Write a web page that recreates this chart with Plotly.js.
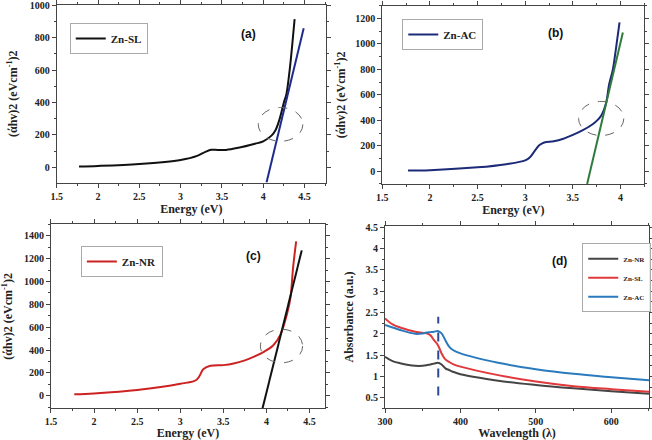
<!DOCTYPE html>
<html><head><meta charset="utf-8">
<script src="https://cdn.plot.ly/plotly-3.0.1.min.js"></script>
<style>html,body{margin:0;padding:0;background:#fff}#plot{width:652px;height:440px}</style>
</head><body><div id="plot"></div>
<script>
// Panel (a) Zn-SL
const slE = [1.77,2.0,2.5,3.0,3.2,3.3,3.37,3.45,3.55,3.7,3.9,4.0,4.1,4.15,4.2,4.25,4.28,4.32,4.35,4.38];
const slT = [5,8,20,45,70,95,108,107,107,120,145,160,195,230,300,400,450,600,750,915];
const fitSL_E = [4.04,4.49];
const fitSL_T = [-95,858];
// Panel (b) Zn-AC
const acE = [1.77,2.0,2.5,2.8,3.0,3.05,3.1,3.15,3.2,3.3,3.4,3.5,3.6,3.7,3.75,3.8,3.85,3.88,3.92,3.95,3.99];
const acT = [5,8,30,55,85,110,160,205,225,235,255,285,320,365,395,440,540,680,800,950,1170];
const fitAC_E = [3.65,4.025];
const fitAC_T = [-100,1090];
// Panel (c) Zn-NR
const nrE = [1.77,2.0,2.5,3.0,3.19,3.27,3.35,3.5,3.62,3.75,3.85,3.97,4.08,4.16,4.24,4.28,4.31,4.345];
const nrT = [12,20,50,105,140,233,262,268,282,310,340,384,442,530,719,864,1126,1350];
const fitNR_E = [3.955,4.41];
const fitNR_T = [-110,1272];
// Panel (d) absorbance
const wl = [300,310,320,340,350,355,360,365,370,375,380,385,390,400,450,500,550,600,650];
const absNR = [1.46,1.36,1.31,1.25,1.25,1.26,1.28,1.30,1.32,1.28,1.19,1.15,1.11,1.05,0.90,0.80,0.72,0.65,0.59];
const absSL = [2.36,2.22,2.15,2.05,2.02,2.01,1.97,1.85,1.74,1.54,1.40,1.34,1.29,1.23,1.03,0.88,0.77,0.70,0.64];
const absAC = [2.21,2.15,2.09,2.00,2.01,2.03,2.04,2.05,2.066,2.01,1.85,1.70,1.62,1.54,1.32,1.17,1.06,0.98,0.91];
const edgeWl = [370.6,370.6];
const edgeAbs = [0.55,2.40];

const serif = 'Liberation Serif';
const tickF = {family: serif, size: 10, color: '#222', weight: 'bold'};
const titleF = {family: serif, size: 12, color: '#222', weight: 'bold'};

function ax(domain, range, dtick, minorD, title, anchor, standoff) {
  return {domain: domain, range: range, dtick: dtick, tick0: 0, anchor: anchor,
    showgrid: false, zeroline: false, showline: true, linecolor: '#444', linewidth: 1,
    mirror: 'ticks', ticks: 'outside', ticklen: 4, tickcolor: '#444', ticklabeloverflow: 'allow',
    minor: {ticks: 'outside', ticklen: 2, dtick: minorD, tickcolor: '#444'},
    tickfont: tickF, title: {text: title, font: titleF, standoff: standoff}};
}
const yT = '(άhv)2 (eVcm<sup>-1</sup>)2';

const traces = [
  {x: slE, y: slT, xaxis: 'x', yaxis: 'y', mode: 'lines', name: 'Zn-SL', line: {color: '#111', width: 2, shape: 'spline'}, legend: 'legend'},
  {x: fitSL_E, y: fitSL_T, xaxis: 'x', yaxis: 'y', mode: 'lines', line: {color: '#1e2c8c', width: 2}, showlegend: false},
  {x: acE, y: acT, xaxis: 'x2', yaxis: 'y2', mode: 'lines', name: 'Zn-AC', line: {color: '#1c2a78', width: 2, shape: 'spline'}, legend: 'legend2'},
  {x: fitAC_E, y: fitAC_T, xaxis: 'x2', yaxis: 'y2', mode: 'lines', line: {color: '#2f7a3c', width: 2}, showlegend: false},
  {x: nrE, y: nrT, xaxis: 'x3', yaxis: 'y3', mode: 'lines', name: 'Zn-NR', line: {color: '#cc2222', width: 2, shape: 'spline'}, legend: 'legend3'},
  {x: fitNR_E, y: fitNR_T, xaxis: 'x3', yaxis: 'y3', mode: 'lines', line: {color: '#111', width: 2}, showlegend: false},
  {x: wl, y: absNR, xaxis: 'x4', yaxis: 'y4', mode: 'lines', name: 'Zn-NR', line: {color: '#454545', width: 2, shape: 'spline'}, legend: 'legend4'},
  {x: wl, y: absSL, xaxis: 'x4', yaxis: 'y4', mode: 'lines', name: 'Zn-SL', line: {color: '#e0393b', width: 2, shape: 'spline'}, legend: 'legend4'},
  {x: wl, y: absAC, xaxis: 'x4', yaxis: 'y4', mode: 'lines', name: 'Zn-AC', line: {color: '#2a7bbd', width: 2, shape: 'spline'}, legend: 'legend4'},
  {x: edgeWl, y: edgeAbs, xaxis: 'x4', yaxis: 'y4', mode: 'lines', line: {color: '#2b4a9a', width: 2, dash: 'dash'}, showlegend: false}
];

const legBase = {bgcolor: 'rgba(255,255,255,0.9)', bordercolor: '#aaa', borderwidth: 1, xanchor: 'left', yanchor: 'top',
  font: {family: serif, size: 11, color: '#222', weight: 'bold'}, itemwidth: 30, tracegroupgap: 0};

const ell = (xr, yr, x0, x1, y0, y1) => ({type: 'circle', xref: xr, yref: yr, x0: x0, x1: x1, y0: y0, y1: y1,
  line: {color: '#666', width: 1, dash: 'dash'}});
const lab = (xr, yr, x, y, t) => ({xref: xr, yref: yr, x: x, y: y, text: t, showarrow: false,
  font: {family: 'Liberation Sans', size: 12, color: '#111', weight: 'bold'}});

const layout = {
  width: 652, height: 440, margin: {l: 0, r: 0, t: 0, b: 0},
  paper_bgcolor: '#fff', plot_bgcolor: '#fff', showlegend: true,
  xaxis: ax([0.087, 0.5], [1.5, 4.76], 0.5, 0.25, 'Energy (eV)', 'y', 3),
  yaxis: ax([0.585, 0.989], [-95, 1003], 200, 100, yT, 'x', 9),
  xaxis2: ax([0.5864, 0.9882], [1.5, 4.25], 0.5, 0.25, 'Energy (eV)', 'y2', 3),
  yaxis2: ax([0.582, 0.987], [-100, 1300], 200, 100, yT, 'x2', 7),
  xaxis3: ax([0.0782, 0.4985], [1.5, 4.68], 0.5, 0.25, 'Energy (eV)', 'y3', 3),
  yaxis3: ax([0.072, 0.4902], [-110, 1500], 200, 100, yT, 'x3', 9),
  xaxis4: ax([0.5905, 0.9954], [300, 650], 100, 50, 'Wavelength (λ)', 'y4', 3),
  yaxis4: ax([0.072, 0.487], [0.25, 4.54], 0.5, 0.25, 'Absorbance (a.u.)', 'x4', 9),
  legend: Object.assign({}, legBase, {x: 0.107, y: 0.948}),
  legend2: Object.assign({}, legBase, {x: 0.617, y: 0.957}),
  legend3: Object.assign({}, legBase, {x: 0.124, y: 0.441}),
  legend4: Object.assign({}, legBase, {x: 0.893, y: 0.447, font: {family: serif, size: 7, color: '#222', weight: 'bold'}}),
  shapes: [
    ell('x', 'y', 3.94, 4.48, 160, 369),
    ell('x2', 'y2', 3.56, 4.035, 280, 548),
    ell('x3', 'y3', 3.93, 4.42, 288, 582)
  ],
  annotations: [
    lab('x', 'y', 3.82, 825, '(a)'),
    lab('x2', 'y2', 3.32, 1085, '(b)'),
    lab('x3', 'y3', 3.85, 1222, '(c)'),
    lab('x4', 'y4', 531, 3.72, '(d)')
  ]
};
Plotly.newPlot('plot', traces, layout, {displayModeBar: false, staticPlot: true});
</script></body></html>
